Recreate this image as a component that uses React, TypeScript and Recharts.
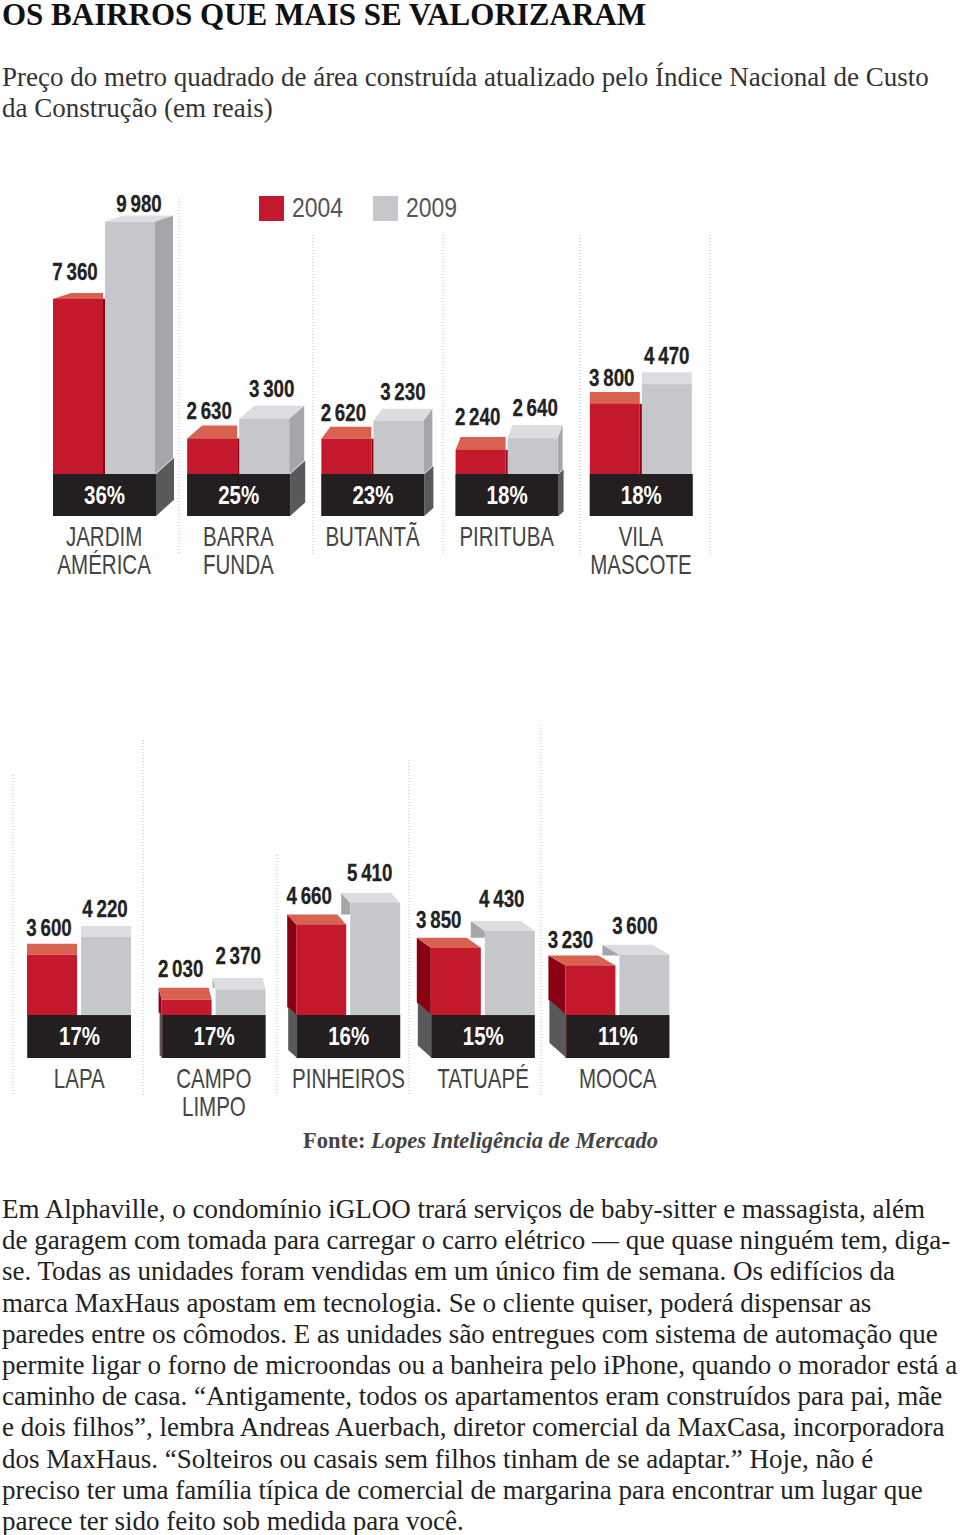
import React from "react";
import { Bar, BarChart, Customized, LabelList, Legend, XAxis, YAxis } from "recharts";

const TOP_NAMES = ["JARDIM AMÉRICA", "BARRA FUNDA", "BUTANTÃ", "PIRITUBA", "VILA MASCOTE"];
const TOP_2004 = [7360, 2630, 2620, 2240, 3800];
const TOP_2009 = [9980, 3300, 3230, 2640, 4470];
const TOP_PCT = ["36%", "25%", "23%", "18%", "18%"];
const TOP_BASE = [1424, 1424, 1424, 1424, 1424];

const BOTTOM_NAMES = ["LAPA", "CAMPO LIMPO", "PINHEIROS", "TATUAPÉ", "MOOCA"];
const BOTTOM_2004 = [3600, 2030, 4660, 3850, 3230];
const BOTTOM_2009 = [4220, 2370, 5410, 4430, 3600];
const BOTTOM_PCT = ["17%", "17%", "16%", "15%", "11%"];
const BOTTOM_BASE = [1498, 1498, 1498, 1498, 1498];

const LEGEND_ITEMS = ["2004", "2009"];

const TITLE = "OS BAIRROS QUE MAIS SE VALORIZARAM";
const SUBTITLE = [
  "Preço do metro quadrado de área construída atualizado pelo Índice Nacional de Custo",
  "da Construção (em reais)",
];
const BODY = [
  "Em Alphaville, o condomínio iGLOO trará serviços de baby-sitter e massagista, além",
  "de garagem com tomada para carregar o carro elétrico — que quase ninguém tem, diga-",
  "se. Todas as unidades foram vendidas em um único fim de semana. Os edifícios da",
  "marca MaxHaus apostam em tecnologia. Se o cliente quiser, poderá dispensar as",
  "paredes entre os cômodos. E as unidades são entregues com sistema de automação que",
  "permite ligar o forno de microondas ou a banheira pelo iPhone, quando o morador está a",
  "caminho de casa. “Antigamente, todos os apartamentos eram construídos para pai, mãe",
  "e dois filhos”, lembra Andreas Auerbach, diretor comercial da MaxCasa, incorporadora",
  "dos MaxHaus. “Solteiros ou casais sem filhos tinham de se adaptar.” Hoje, não é",
  "preciso ter uma família típica de comercial de margarina para encontrar um lugar que",
  "parece ter sido feito sob medida para você.",
];

const RED = "#c4182c";
const RED_TOP = "#d8614f";
const RED_SIDE = "#8a0012";
const GRAY = "#c6c7ca";
const GRAY_TOP = "#dcdde0";
const GRAY_SIDE = "#a4a6a9";
const BLACK = "#231f20";
const BLACK_SIDE = "#58595b";
const SANS = "'Liberation Sans', sans-serif";
const SERIF = "'Liberation Serif', serif";

// perspective of each little block and extra lift of its value labels, in px
const TOP_VIEW = {
  dir: 1,
  side: [18, 15, 9, 5, 0],
  depth: [6, 13, 12, 13, 12],
  liftRed: [8, 1, 1, 7, 1],
  liftGray: [-2, 3, 4, 4, 3],
};
const BOTTOM_VIEW = {
  dir: -1,
  side: [0, 3, 9, 14, 17],
  depth: [11, 12, 10, 10, 10],
  liftRed: [3, 6, 5, 4, 2],
  liftGray: [4, 9, 7, 9, 6],
};

const TOP_GRID = [
  [179, 38],
  [313, 75],
  [443, 75],
  [580, 75],
  [710, 75],
];
const BOTTOM_GRID = [
  [13, 75],
  [143, 40],
  [277, 155],
  [409, 60],
  [541, 25],
];

const pts = (list: number[][]) => list.map((p) => p.join(",")).join(" ");

function makeRows(names: string[], a: number[], b: number[], base: number[]) {
  return names.map((name, i) => ({ name, v2004: a[i], v2009: b[i], base: base[i] }));
}

function RedBlock({ x, y, width, height, payload, index, view }: any) {
  const s = view.side[index];
  const t = view.depth[index];
  const zero = y + height;
  const baseY = zero - (payload.base * height) / payload.v2004;
  if (view.dir > 0) {
    return (
      <g>
        <rect x={x + width} y={y} width={3} height={height} fill={RED_SIDE} />
        <polygon points={pts([[x, y], [x + width, y], [x + width, y - t], [x + s, y - t]])} fill={RED_TOP} />
        <rect x={x} y={y} width={width} height={height} fill={RED} />
      </g>
    );
  }
  return (
    <g>
      <polygon points={pts([[x, y], [x - s, y - t], [x - s, baseY - s * 0.9], [x, baseY]])} fill={RED_SIDE} />
      <polygon points={pts([[x, y], [x + width, y], [x + width - s, y - t], [x - s, y - t]])} fill={RED_TOP} />
      <rect x={x} y={y} width={width} height={height} fill={RED} />
    </g>
  );
}

function GrayBlock({ x, y, width, height, payload, index, view }: any) {
  const s = view.side[index];
  const t = view.depth[index];
  const zero = y + height;
  const perUnit = height / payload.v2009;
  const baseY = zero - payload.base * perUnit;
  if (view.dir > 0) {
    return (
      <g>
        <polygon
          points={pts([[x + width, y], [x + width + s, y - t], [x + width + s, baseY - s * 0.9], [x + width, baseY]])}
          fill={GRAY_SIDE}
        />
        <polygon points={pts([[x, y], [x + width, y], [x + width + s, y - t], [x + s, y - t]])} fill={GRAY_TOP} />
        <rect x={x} y={y} width={width} height={height} fill={GRAY} />
      </g>
    );
  }
  // the red block stands in front, so the side stops at its top
  const redY = zero - payload.v2004 * perUnit - view.depth[index];
  return (
    <g>
      <polygon points={pts([[x, y], [x - s, y - t], [x - s, redY], [x, redY]])} fill={GRAY_SIDE} />
      <polygon points={pts([[x, y], [x + width, y], [x + width - s, y - t], [x - s, y - t]])} fill={GRAY_TOP} />
      <rect x={x} y={y} width={width} height={height} fill={GRAY} />
    </g>
  );
}

function BaseBlock({ x, y, width, height, index, view }: any) {
  const s = view.side[index];
  const edge = view.dir > 0 ? x + width : x;
  const back = edge + view.dir * s;
  const rise = s * 0.9;
  return (
    <g>
      <polygon
        points={pts([[edge, y], [back, y - rise], [back, y + height - rise], [edge, y + height]])}
        fill={BLACK_SIDE}
      />
      <rect x={x} y={y} width={width} height={height} fill={BLACK} />
    </g>
  );
}

function valueText(v: number) {
  const str = String(v);
  return str.slice(0, -3) + "\u2009" + str.slice(-3);
}

// no condensed face is installed, so squeeze the regular one
function Squeezed({ x, y, sx, children, ...rest }: any) {
  return (
    <text transform={`translate(${x} ${y}) scale(${sx} 1)`} textAnchor="middle" fontFamily={SANS} {...rest}>
      {children}
    </text>
  );
}

function ValueLabel({ x, y, width, value, index, view, series }: any) {
  const s = view.side[index];
  const t = view.depth[index];
  const lift = series === "v2009" ? view.liftGray[index] : view.liftRed[index];
  let cx = x + width / 2;
  if (view.dir > 0) cx += series === "v2009" ? s / 2 : -3;
  else cx += series === "v2009" ? -s / 2 - 1 : -s - 3;
  return (
    <Squeezed
      x={cx}
      y={y - t - 13 - lift}
      sx={0.78}
      dominantBaseline="central"
      fontWeight="bold"
      fontSize={24}
      fill="#222"
      stroke="#222"
      strokeWidth={0.3}
    >
      {valueText(value)}
    </Squeezed>
  );
}

function PctLabel({ x, y, width, height, index, pct }: any) {
  return (
    <Squeezed x={x + width / 2} y={y + height / 2} sx={0.82} dominantBaseline="central" fontWeight="bold" fontSize={25} fill="#fff">
      {pct[index]}
    </Squeezed>
  );
}

function NameTick({ x, y, payload }: any) {
  const words = String(payload.value).split(" ");
  return (
    <g>
      {words.map((w, i) => (
        <Squeezed key={w} x={x} y={y + 24 + i * 28} sx={0.76} fontSize={27} fill="#444">
          {w}
        </Squeezed>
      ))}
    </g>
  );
}

function GridLines({ lines, bottom }: { lines: number[][]; bottom: number }) {
  return (
    <g>
      {lines.map(([x, top]) => (
        <line key={x} x1={x} x2={x} y1={top} y2={bottom} stroke="#b5b5b5" strokeWidth={1} strokeDasharray="1 2" />
      ))}
    </g>
  );
}

function LegendBox() {
  return (
    <div style={{ display: "flex" }}>
      {LEGEND_ITEMS.map((label, i) => (
        <div key={label} style={{ display: "flex", alignItems: "center", width: 114 }}>
          <span style={{ width: 25, height: 25, background: i === 0 ? RED : GRAY, display: "block" }} />
          <span
            style={{
              marginLeft: 8,
              fontFamily: SANS,
              fontSize: 28,
              color: "#555",
              display: "inline-block",
              transform: "scaleX(0.82)",
              transformOrigin: "left center",
            }}
          >
            {label}
          </span>
        </div>
      ))}
    </div>
  );
}

function Blocks({ rows, view, pct, margin, height, grid, gridBottom, legend }: any) {
  return (
    <BarChart
      width={720}
      height={height}
      data={rows}
      margin={margin}
      barGap={view.dir > 0 ? 2 : 4}
      barCategoryGap={10}
      style={{ background: "transparent" }}
    >
      <Customized component={<GridLines lines={grid} bottom={gridBottom} />} />
      <XAxis dataKey="name" axisLine={false} tickLine={false} tickMargin={0} interval={0} tick={<NameTick />} />
      <XAxis xAxisId="base" dataKey="name" hide />
      <YAxis hide domain={[0, 12000]} />
      {legend && (
        <Legend
          layout="horizontal"
          verticalAlign="middle"
          align="center"
          wrapperStyle={{ position: "absolute", left: 259, top: 32, width: 240 }}
          content={() => <LegendBox />}
        />
      )}
      <Bar
        dataKey="v2004"
        barSize={50}
        isAnimationActive={false}
        shape={(p: any) => <RedBlock {...p} view={view} />}
      >
        <LabelList dataKey="v2004" content={(p: any) => <ValueLabel {...p} view={view} series="v2004" />} />
      </Bar>
      <Bar
        dataKey="v2009"
        barSize={50}
        isAnimationActive={false}
        shape={(p: any) => <GrayBlock {...p} view={view} />}
      >
        <LabelList dataKey="v2009" content={(p: any) => <ValueLabel {...p} view={view} series="v2009" />} />
      </Bar>
      <Bar
        xAxisId="base"
        dataKey="base"
        barSize={103}
        isAnimationActive={false}
        shape={(p: any) => <BaseBlock {...p} view={view} />}
      >
        <LabelList dataKey="base" content={(p: any) => <PctLabel {...p} pct={pct} />} />
      </Bar>
    </BarChart>
  );
}

const lineStyle: React.CSSProperties = {
  position: "absolute",
  left: 2,
  whiteSpace: "nowrap",
  fontFamily: SERIF,
  fontSize: 27,
  lineHeight: "31px",
  color: "#222",
};

export default function App() {
  return (
    <div style={{ position: "absolute", left: 0, top: 0, width: 960, height: 1535, background: "#fff" }}>
      <div style={{ ...lineStyle, top: 2, fontSize: 31, lineHeight: "25px", fontWeight: "bold", color: "#111" }}>{TITLE}</div>
      {SUBTITLE.map((t, i) => (
        <div key={t} style={{ ...lineStyle, top: 62 + i * 31, color: "#333" }}>
          {t}
        </div>
      ))}
      <div style={{ position: "absolute", left: 0, top: 160 }}>
        <Blocks
          rows={makeRows(TOP_NAMES, TOP_2004, TOP_2009, TOP_BASE)}
          view={TOP_VIEW}
          pct={TOP_PCT}
          margin={{ top: 2, right: 12, bottom: 54, left: 37 }}
          height={440}
          grid={TOP_GRID}
          gridBottom={395}
          legend
        />
      </div>
      <div style={{ position: "absolute", left: 0, top: 700 }}>
        <Blocks
          rows={makeRows(BOTTOM_NAMES, BOTTOM_2004, BOTTOM_2009, BOTTOM_BASE)}
          view={BOTTOM_VIEW}
          pct={BOTTOM_PCT}
          margin={{ top: 14, right: 35, bottom: 44, left: 12 }}
          height={432}
          grid={BOTTOM_GRID}
          gridBottom={395}
        />
      </div>
      <div style={{ position: "absolute", left: 303, top: 1128, fontFamily: SERIF, fontSize: 22.5, fontWeight: "bold", color: "#444", whiteSpace: "nowrap" }}>
        Fonte: <i>Lopes Inteligência de Mercado</i>
      </div>
      {BODY.map((t, i) => (
        <div key={t} style={{ ...lineStyle, top: 1194 + i * 31.2 }}>
          {t}
        </div>
      ))}
    </div>
  );
}
